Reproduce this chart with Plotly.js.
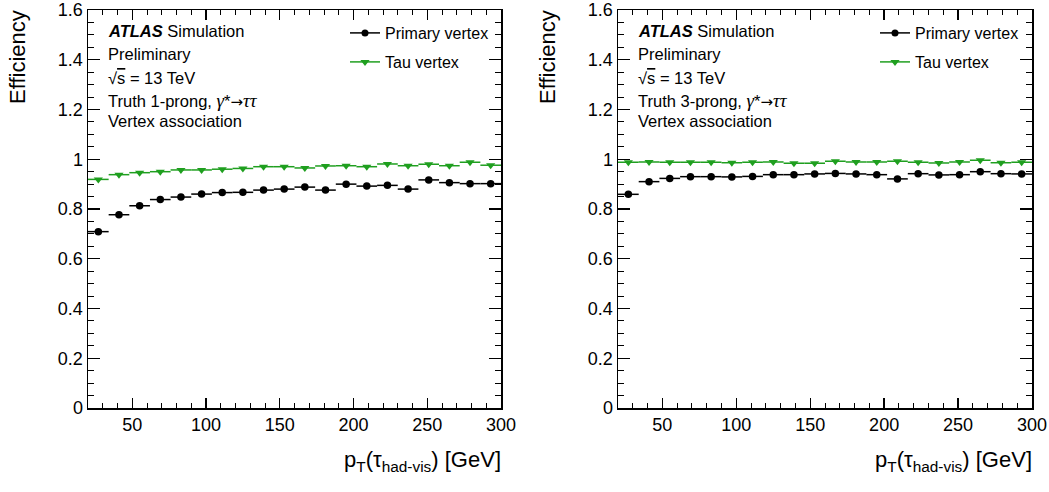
<!DOCTYPE html>
<html>
<head>
<meta charset="utf-8">
<script src="https://cdn.plot.ly/plotly-3.0.1.min.js"></script>
<style>html,body{margin:0;padding:0;background:#fff}#plot{width:1049px;height:492px}</style>
</head>
<body>
<div id="plot"></div>
<script>
// ---- data ----
const binCenters = [27,41,55,69,83,97,111,125,139,153,167,181,195,209,223,237,251,265,279,293];
const binHalfWidth = [7,7,7,7,7,7,7,7,7,7,7,7,7,7,7,7,7,7,7,7];
const primary1prong = [0.709,0.777,0.813,0.838,0.848,0.860,0.866,0.867,0.876,0.880,0.888,0.876,0.900,0.892,0.895,0.880,0.917,0.906,0.902,0.902];
const tau1prong = [0.919,0.938,0.946,0.950,0.957,0.957,0.960,0.963,0.970,0.970,0.965,0.973,0.974,0.970,0.981,0.974,0.980,0.974,0.988,0.976];
const primary3prong = [0.859,0.910,0.923,0.930,0.930,0.929,0.931,0.938,0.938,0.941,0.943,0.941,0.938,0.921,0.942,0.937,0.938,0.950,0.942,0.941];
const tau3prong = [0.988,0.989,0.988,0.988,0.988,0.986,0.988,0.989,0.984,0.984,0.992,0.989,0.989,0.992,0.988,0.985,0.989,0.996,0.986,0.988];
const seriesNames = ["Primary vertex","Tau vertex"];
const G = "<span style=\"font-family:Liberation Serif;font-style:italic;font-size:19px\">γ</span>";
const T = "<span style=\"font-family:Liberation Serif;font-style:italic;font-size:19px\">ττ</span>";
const ARROW = "<span style=\"font-family:DejaVu Sans;font-size:15px\">→</span>";
const infoLines1 = ["<b><i>ATLAS</i></b> Simulation","Preliminary","√<span style=\"text-decoration:overline\">s</span> = 13 TeV","Truth 1-prong, " + G + "*" + ARROW + T,"Vertex association"];
const infoLines2 = ["<b><i>ATLAS</i></b> Simulation","Preliminary","√<span style=\"text-decoration:overline\">s</span> = 13 TeV","Truth 3-prong, " + G + "*" + ARROW + T,"Vertex association"];
const xTitle = "p<sub>T</sub>(τ<sub>had-vis</sub>) [GeV]";
const yTitle = "Efficiency";

// ---- styling ----
const W = 1049, H = 492;
const BLACK = "#000000", GREEN = "#1f9f1f";
const FONT = "Liberation Sans, Arial, sans-serif";

function dataTrace(y, color, symbol, size, xa, ya) {
  return {
    x: binCenters, y: y, xaxis: xa, yaxis: ya, type: "scatter", mode: "markers",
    showlegend: false,
    marker: {color: color, symbol: symbol, size: size},
    error_x: {type: "data", array: binHalfWidth, visible: true, color: color, thickness: 1.5, width: 0},
    hoverinfo: "x+y"
  };
}
function legendTrace(name, color, symbol, size, leg) {
  return {
    x: [null], y: [null], type: "scatter", mode: "lines+markers", name: name,
    legend: leg, showlegend: true,
    line: {color: color, width: 1.5},
    marker: {color: color, symbol: symbol, size: size}
  };
}

const traces = [
  dataTrace(primary1prong, BLACK, "circle", 7.5, "x", "y"),
  dataTrace(tau1prong, GREEN, "triangle-down", 8, "x", "y"),
  dataTrace(primary3prong, BLACK, "circle", 7.5, "x2", "y2"),
  dataTrace(tau3prong, GREEN, "triangle-down", 8, "x2", "y2"),
  legendTrace(seriesNames[0], BLACK, "circle", 7, "legend"),
  legendTrace(seriesNames[1], GREEN, "triangle-down", 8, "legend2"),
  legendTrace(seriesNames[0], BLACK, "circle", 7, "legend3"),
  legendTrace(seriesNames[1], GREEN, "triangle-down", 8, "legend4")
];

function xAxis(domain, anchor) {
  return {
    domain: domain, anchor: anchor, range: [20, 300], tick0: 0, dtick: 50,
    ticks: "inside", ticklen: 10, tickwidth: 1.3, tickcolor: BLACK,
    showline: true, linecolor: BLACK, linewidth: 1.5, mirror: "allticks",
    showgrid: false, zeroline: false,
    minor: {ticks: "inside", ticklen: 5, tick0: 0, dtick: 10, tickcolor: BLACK, tickwidth: 1, showgrid: false},
    tickfont: {family: FONT, size: 18, color: BLACK}
  };
}
function yAxis(domain, anchor) {
  return {
    domain: domain, anchor: anchor, range: [0, 1.6], tick0: 0, dtick: 0.2,
    ticks: "inside", ticklen: 12, tickwidth: 1.3, tickcolor: BLACK,
    showline: true, linecolor: BLACK, linewidth: 1.5, mirror: "allticks",
    showgrid: false, zeroline: false,
    minor: {ticks: "inside", ticklen: 6, tick0: 0, dtick: 0.05, tickcolor: BLACK, tickwidth: 1, showgrid: false},
    tickfont: {family: FONT, size: 18, color: BLACK}
  };
}

const yDom = [84 / H, 482 / H];
const annotations = [];
const lineY = [31, 54, 78, 100, 121];
function addInfo(lines, xLeft) {
  lines.forEach((t, i) => annotations.push({
    text: t, xref: "paper", yref: "paper", x: xLeft / W, y: 1 - lineY[i] / H,
    xanchor: "left", yanchor: "middle", showarrow: false,
    font: {family: FONT, size: 16.5, color: BLACK}
  }));
}
addInfo(infoLines1, 106);
addInfo(infoLines2, 636);
[503, 1034].forEach(xp => annotations.push({
  text: xTitle, xref: "paper", yref: "paper", x: xp / W, y: 1 - 461 / H,
  xanchor: "right", yanchor: "middle", showarrow: false,
  font: {family: FONT, size: 22, color: BLACK}
}));
[18, 548].forEach(xp => annotations.push({
  text: yTitle, xref: "paper", yref: "paper", x: xp / W, y: 1 - 8 / H,
  xanchor: "center", yanchor: "top", textangle: -90, showarrow: false,
  font: {family: FONT, size: 22, color: BLACK}
}));

function legendBox(xLeft, yCenter) {
  return {
    x: xLeft / W, y: 1 - yCenter / H, xanchor: "left", yanchor: "middle",
    bgcolor: "rgba(0,0,0,0)", borderwidth: 0,
    font: {family: FONT, size: 16, color: BLACK}
  };
}

const layout = {
  width: W, height: H,
  margin: {l: 0, r: 0, t: 0, b: 0},
  paper_bgcolor: "#ffffff", plot_bgcolor: "#ffffff",
  xaxis: xAxis([88 / W, 501 / W], "y"),
  yaxis: yAxis(yDom, "x"),
  xaxis2: xAxis([618 / W, 1032 / W], "y2"),
  yaxis2: yAxis(yDom, "x2"),
  legend: legendBox(345, 33),
  legend2: legendBox(345, 62),
  legend3: legendBox(875, 33),
  legend4: legendBox(875, 62),
  annotations: annotations
};

Plotly.newPlot("plot", traces, layout, {staticPlot: true, displayModeBar: false});
</script>
</body>
</html>
